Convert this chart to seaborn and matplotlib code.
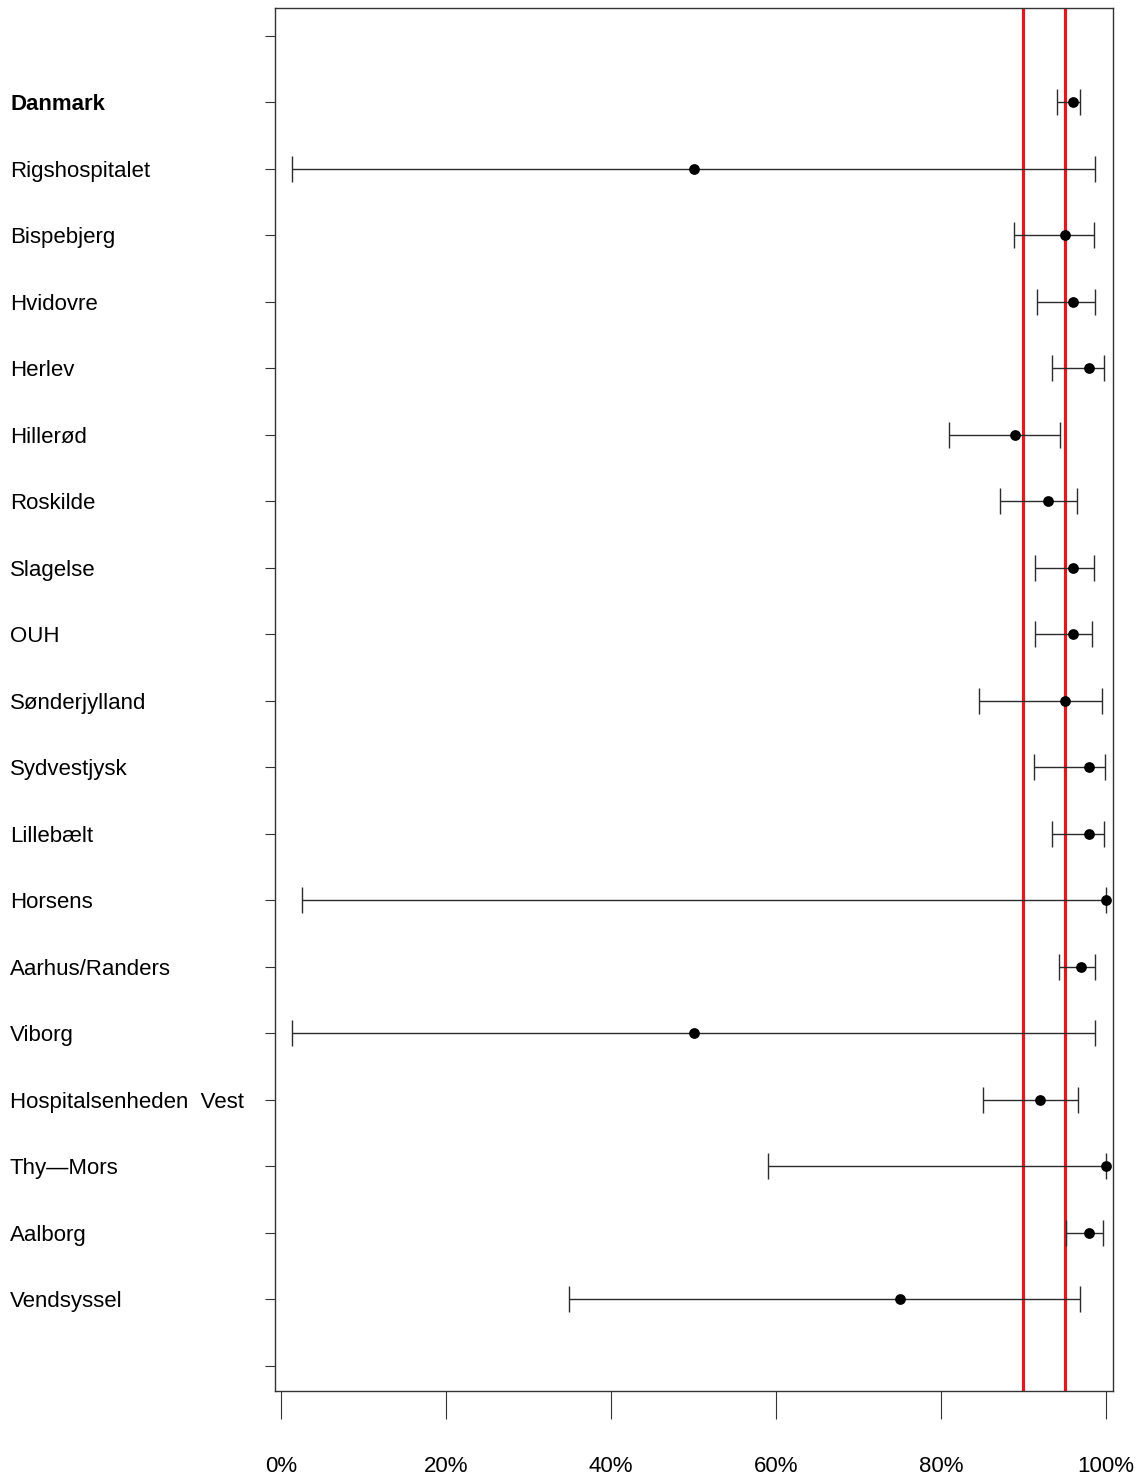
import numpy as np
import pandas as pd
import matplotlib
matplotlib.use("Agg")
import matplotlib.pyplot as plt
import seaborn as sns

# Share (%) with 95% confidence limits per unit
units = ["Danmark", "Rigshospitalet", "Bispebjerg", "Hvidovre", "Herlev", "Hillerød",
         "Roskilde", "Slagelse", "OUH", "Sønderjylland", "Sydvestjysk", "Lillebælt",
         "Horsens", "Aarhus/Randers", "Viborg", "Hospitalsenheden  Vest", "Thy\u2014Mors",
         "Aalborg", "Vendsyssel"]
estimate = [96.0, 50.0, 95.0, 96.0, 98.0, 89.0, 93.0, 96.0, 96.0, 95.0, 98.0, 98.0,
            100.0, 97.0, 50.0, 92.0, 100.0, 98.0, 75.0]
lower = [94.1, 1.3, 88.8, 91.6, 93.5, 81.0, 87.1, 91.4, 91.4, 84.6, 91.3, 93.5,
         2.5, 94.3, 1.3, 85.1, 59.0, 95.2, 34.9]
upper = [96.9, 98.7, 98.5, 98.7, 99.7, 94.4, 96.5, 98.5, 98.3, 99.5, 99.9, 99.7,
         100.0, 98.7, 98.7, 96.6, 100.0, 99.6, 96.8]
reference_levels = [90, 95]
x_ticks = [0, 20, 40, 60, 80, 100]
x_tick_labels = ["0%", "20%", "40%", "60%", "80%", "100%"]

df = pd.DataFrame({"unit": units, "est": estimate, "lo": lower, "hi": upper})
df["pos"] = np.arange(1, len(df) + 1)

sns.set_theme(style="white")
plt.rcParams["font.family"] = ["Liberation Sans", "DejaVu Sans"]
plt.rcParams["text.color"] = "black"
plt.rcParams["xtick.color"] = "black"
plt.rcParams["ytick.color"] = "black"

fig = plt.figure(figsize=(11.4, 14.76), dpi=100)
ax = fig.add_axes([275 / 1140, 1 - 1391 / 1476, (1113 - 275) / 1140, (1391 - 8) / 1476])

# reference lines
for lvl in reference_levels:
    ax.axvline(lvl, color="#e0191f", lw=2.3, zorder=1)

# confidence intervals
ax.errorbar(df["est"], df["pos"],
            xerr=[df["est"] - df["lo"], df["hi"] - df["est"]],
            fmt="none", ecolor="#2b2b2b", elinewidth=1.0, capsize=9.7,
            capthick=1.0, zorder=2)

# point estimates
sns.scatterplot(data=df, x="est", y="pos", ax=ax, color="black", s=60,
                edgecolor="black", linewidth=0, zorder=3, legend=False)

ax.set_xlim(-0.73, 100.85)
ax.set_ylim(20.38, -0.42)

ax.set_xticks(x_ticks)
ax.set_xticklabels(x_tick_labels, fontsize=16, color="black")
ax.tick_params(axis="x", direction="out", length=20, width=0.8, color="#333333",
               pad=27, bottom=True, labelcolor="black")

yt = np.arange(0, len(units) + 2)
ax.set_yticks(yt)
ax.set_yticklabels([""] + units + [""], fontsize=16, color="black")
ax.tick_params(axis="y", direction="out", length=7.2, width=0.8, color="#333333",
               pad=183.6, left=True, labelcolor="black")
for lab in ax.get_yticklabels():
    lab.set_horizontalalignment("left")
    if lab.get_text() == "Danmark":
        lab.set_fontweight("bold")

ax.set_xlabel("")
ax.set_ylabel("")
for sp in ax.spines.values():
    sp.set_visible(True)
    sp.set_color("#333333")
    sp.set_linewidth(1.0)

fig.savefig("out.png", dpi=100, facecolor="white")
